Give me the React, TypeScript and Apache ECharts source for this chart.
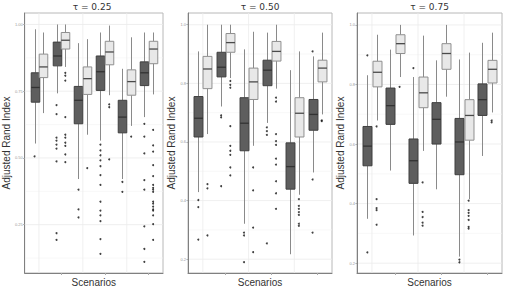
import React, { useEffect, useRef } from "react";
import * as echarts from "echarts";

// ---------- data ----------
const scenarios = [1, 2, 3, 4, 5, 6];
const panelTitles = ["τ = 0.25", "τ = 0.50", "τ = 0.75"];
const yAxisTitle = "Adjusted Rand Index";
const xAxisTitle = "Scenarios";

const yTicks025 = [0.25, 0.5, 0.75, 1.0];
const yTicks050 = [0.2, 0.4, 0.6, 0.8, 1.0];
const yTicks075 = [0.2, 0.4, 0.6, 0.8, 1.0];
const yMinor025 = [0.125, 0.375, 0.625, 0.875];
const yMinor050 = [0.3, 0.5, 0.7, 0.9];
const yMinor075 = [0.3, 0.5, 0.7, 0.9];
const xGridLines = [1, 3, 5];
const xTicks = [2, 4, 6];

// [lower whisker, Q1, median, Q3, upper whisker] per scenario
const dark025 = [
  [0.554, 0.709, 0.764, 0.819, 0.982],
  [0.742, 0.845, 0.882, 0.934, 1.0],
  [0.421, 0.628, 0.716, 0.768, 0.93],
  [0.565, 0.753, 0.823, 0.882, 0.97],
  [0.421, 0.594, 0.653, 0.716, 0.834],
  [0.653, 0.771, 0.819, 0.86, 0.97],
];
const light025 = [
  [0.668, 0.801, 0.841, 0.889, 0.97],
  [0.841, 0.908, 0.941, 0.97, 1.0],
  [0.587, 0.738, 0.797, 0.841, 0.945],
  [0.735, 0.849, 0.897, 0.937, 0.996],
  [0.62, 0.735, 0.786, 0.83, 0.952],
  [0.738, 0.853, 0.908, 0.937, 0.97],
];
const darkOut025 = [
  [0.506],
  [0.698, 0.664, 0.576, 0.565, 0.55, 0.535, 0.487, 0.218, 0.193],
  [0.381, 0.307, 0.277],
  [0.55, 0.528, 0.51, 0.491, 0.469, 0.436, 0.399, 0.336, 0.303, 0.285, 0.263, 0.196, 0.141],
  [0.41, 0.373],
  [0.628, 0.58, 0.517, 0.417, 0.381, 0.244, 0.159, 0.111],
];
const lightOut025 = [
  [],
  [0.819, 0.808, 0.79, 0.653, 0.587, 0.576, 0.557, 0.545, 0.513, 0.484],
  [0.462],
  [0.701, 0.69, 0.495],
  [0.58],
  [0.605, 0.547, 0.524, 0.473, 0.432, 0.399, 0.388, 0.381, 0.373, 0.336, 0.329, 0.318, 0.307, 0.303, 0.285, 0.252, 0.193],
];

const dark050 = [
  [0.429, 0.617, 0.681, 0.755, 0.909],
  [0.721, 0.822, 0.855, 0.906, 1.0],
  [0.321, 0.57, 0.664, 0.751, 0.916],
  [0.665, 0.792, 0.845, 0.879, 0.973],
  [0.217, 0.439, 0.516, 0.597, 0.845],
  [0.496, 0.64, 0.694, 0.745, 0.892],
];
const light050 = [
  [0.627, 0.782, 0.849, 0.892, 1.0],
  [0.818, 0.906, 0.939, 0.97, 1.0],
  [0.587, 0.745, 0.805, 0.852, 0.976],
  [0.782, 0.876, 0.909, 0.943, 1.0],
  [0.42, 0.617, 0.698, 0.751, 0.909],
  [0.694, 0.805, 0.852, 0.879, 0.973],
];
const darkOut050 = [
  [0.402, 0.378, 0.267],
  [0.691, 0.684, 0.449],
  [0.291, 0.281, 0.19],
  [0.65, 0.637, 0.624, 0.254],
  [],
  [0.909, 0.472, 0.291],
];
const lightOut050 = [
  [0.456, 0.442, 0.281],
  [0.808, 0.795, 0.785, 0.654, 0.587, 0.57, 0.556, 0.513, 0.486],
  [0.513, 0.435, 0.308, 0.224],
  [0.751, 0.738, 0.627, 0.603, 0.59, 0.543, 0.523, 0.466, 0.425, 0.372],
  [0.405, 0.382, 0.372, 0.361, 0.351, 0.321, 0.314],
  [0.674, 0.671],
];

const dark075 = [
  [0.349, 0.527, 0.593, 0.659, 0.831],
  [0.511, 0.666, 0.729, 0.788, 0.917],
  [0.293, 0.468, 0.544, 0.617, 0.825],
  [0.448, 0.6, 0.683, 0.739, 0.881],
  [0.222, 0.497, 0.607, 0.686, 0.884],
  [0.56, 0.696, 0.749, 0.802, 0.94],
];
const light075 = [
  [0.679, 0.792, 0.841, 0.878, 0.967],
  [0.825, 0.904, 0.937, 0.967, 1.0],
  [0.577, 0.722, 0.772, 0.825, 0.964],
  [0.759, 0.851, 0.904, 0.937, 1.0],
  [0.415, 0.613, 0.696, 0.749, 0.907],
  [0.706, 0.805, 0.851, 0.881, 0.974],
];
const darkOut075 = [
  [0.898, 0.236],
  [],
  [0.855],
  [],
  [0.212, 0.203],
  [],
];
const lightOut075 = [
  [0.659, 0.415, 0.385, 0.378, 0.329],
  [0.792],
  [0.471, 0.372, 0.355, 0.336, 0.326],
  [],
  [0.41, 0.378, 0.369, 0.359, 0.345, 0.322, 0.316],
  [0.679, 0.673],
];

// ---------- layout / style ----------
const panels = [
  { title: panelTitles[0], dark: dark025, light: light025, darkOut: darkOut025, lightOut: lightOut025, ticks: yTicks025, minor: yMinor025, min: 0.069, max: 1.043, dec: 2, left: 21, width: 142 },
  { title: panelTitles[1], dark: dark050, light: light050, darkOut: darkOut050, lightOut: lightOut050, ticks: yTicks050, minor: yMinor050, min: 0.153, max: 1.04, dec: 1, left: 188, width: 144 },
  { title: panelTitles[2], dark: dark075, light: light075, darkOut: darkOut075, lightOut: lightOut075, ticks: yTicks075, minor: yMinor075, min: 0.167, max: 1.04, dec: 1, left: 357, width: 145 },
];
const GRID_TOP = 13;
const GRID_H = 264;
const X_MIN = 0.35;
const X_MAX = 6.65;
const OFFSET = 0.2;
const BOX_W = 0.39;

function boxRenderer(offset: number, fill: string, stroke: string, median: string, whisker: string) {
  return (params: any, api: any) => {
    const x = api.value(0) + offset;
    const lo = api.coord([x, api.value(1)]);
    const q1 = api.coord([x, api.value(2)]);
    const md = api.coord([x, api.value(3)]);
    const q3 = api.coord([x, api.value(4)]);
    const hi = api.coord([x, api.value(5)]);
    const w = api.size([BOX_W, 0])[0];
    const cx = Math.round(lo[0]) + 0.5;
    return {
      type: "group",
      children: [
        { type: "line", shape: { x1: cx, y1: hi[1], x2: cx, y2: q3[1] }, style: { stroke: whisker, lineWidth: 1 } },
        { type: "line", shape: { x1: cx, y1: q1[1], x2: cx, y2: lo[1] }, style: { stroke: whisker, lineWidth: 1 } },
        { type: "rect", shape: { x: cx - w / 2, y: q3[1], width: w, height: q1[1] - q3[1] }, style: { fill, stroke, lineWidth: 1 } },
        { type: "line", shape: { x1: cx - w / 2, y1: md[1], x2: cx + w / 2, y2: md[1] }, style: { stroke: median, lineWidth: 1.3 } },
      ],
    };
  };
}

function gridRenderer(params: any, api: any) {
  const cs = params.coordSys;
  const kind = api.value(2);
  if (kind === 2) {
    const p = api.coord([api.value(0), X_MIN]);
    return { type: "line", shape: { x1: p[0], y1: cs.y, x2: p[0], y2: cs.y + cs.height }, style: { stroke: "#ececec", lineWidth: 0.8 } };
  }
  const p = api.coord([X_MIN, api.value(1)]);
  return {
    type: "line",
    shape: { x1: cs.x, y1: p[1], x2: cs.x + cs.width, y2: p[1] },
    style: { stroke: kind === 0 ? "#ebebeb" : "#f4f4f4", lineWidth: kind === 0 ? 0.8 : 0.6 },
  };
}

export default function App() {
  const ref = useRef<HTMLDivElement>(null);
  useEffect(() => {
    if (!ref.current) return;
    const chart = echarts.init(ref.current, null, { renderer: "svg" });
    const grid: any[] = [];
    const xAxis: any[] = [];
    const yAxis: any[] = [];
    const series: any[] = [];
    const graphic: any[] = [];
    panels.forEach((p, i) => {
      grid.push({ left: p.left, top: GRID_TOP, width: p.width, height: GRID_H, show: true, borderColor: "#b8b8b8", borderWidth: 1, backgroundColor: "#fff" });
      xAxis.push({
        gridIndex: i, type: "value", min: X_MIN, max: X_MAX,
        axisLine: { show: true, lineStyle: { color: "#808080", width: 1 } },
        axisTick: { show: true, customValues: xTicks, length: 2, lineStyle: { color: "#aaa" } },
        axisLabel: { show: false },
        splitLine: { show: false },
        name: xAxisTitle, nameLocation: "middle", nameGap: 4,
        nameTextStyle: { fontSize: 10, color: "#333", fontFamily: "Liberation Sans, Arial, sans-serif", verticalAlign: "top" },
      });
      yAxis.push({
        gridIndex: i, type: "value", min: p.min, max: p.max,
        axisLine: { show: true, lineStyle: { color: "#808080", width: 1 } },
        axisTick: { show: true, customValues: p.ticks, length: 1.5, lineStyle: { color: "#aaa" } },
        axisLabel: { show: true, customValues: p.ticks, fontSize: 4, color: "#9a9a9a", margin: 2, formatter: (v: number) => v.toFixed(p.dec) },
        splitLine: { show: false },
        name: yAxisTitle, nameLocation: "middle", nameGap: 9,
        nameTextStyle: { fontSize: 10, color: "#333", fontFamily: "Liberation Sans, Arial, sans-serif" },
      });
      const gridData: any[] = [];
      p.ticks.forEach((v) => gridData.push([X_MIN, v, 0]));
      p.minor.forEach((v) => gridData.push([X_MIN, v, 1]));
      xGridLines.forEach((v) => gridData.push([v, p.min, 2]));
      series.push({ type: "custom", xAxisIndex: i, yAxisIndex: i, renderItem: gridRenderer, data: gridData, silent: true, z: 0, clip: true });
      series.push({
        type: "custom", xAxisIndex: i, yAxisIndex: i, z: 2, silent: true,
        renderItem: boxRenderer(-OFFSET, "#5e5e5e", "#3f3f3f", "#333333", "#8a8a8a"),
        data: scenarios.map((s, k) => [s, ...p.dark[k]]),
      });
      series.push({
        type: "custom", xAxisIndex: i, yAxisIndex: i, z: 2, silent: true,
        renderItem: boxRenderer(OFFSET, "#e8e8e8", "#8f8f8f", "#4a4a4a", "#8a8a8a"),
        data: scenarios.map((s, k) => [s, ...p.light[k]]),
      });
      const pts: number[][] = [];
      scenarios.forEach((s, k) => {
        p.darkOut[k].forEach((v) => pts.push([s - OFFSET, v]));
        p.lightOut[k].forEach((v) => pts.push([s + OFFSET, v]));
      });
      series.push({
        type: "scatter", xAxisIndex: i, yAxisIndex: i, z: 3, silent: true,
        symbol: "circle", symbolSize: 2, itemStyle: { color: "#111" }, data: pts,
      });
      graphic.push({
        type: "text", x: p.left + p.width / 2, y: 7,
        style: { text: p.title, fontSize: 9, fill: "#333", textAlign: "center", textVerticalAlign: "middle", fontFamily: "DejaVu Sans, sans-serif" },
      });
    });
    chart.setOption({ animation: false, backgroundColor: "#fff", grid, xAxis, yAxis, series, graphic });
    return () => chart.dispose();
  }, []);
  return <div ref={ref} style={{ position: "fixed", left: 0, top: 0, width: 507, height: 292 }} />;
}
